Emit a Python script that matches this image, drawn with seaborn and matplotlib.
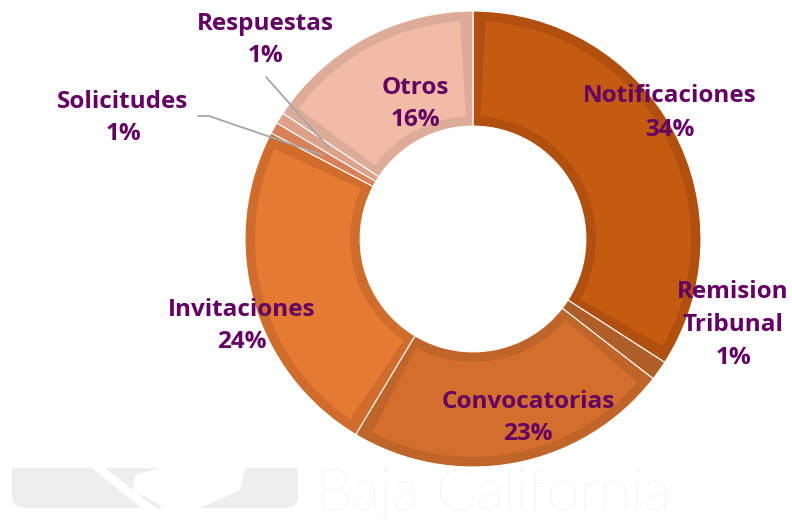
import numpy as np
import matplotlib
matplotlib.use("Agg")
import matplotlib.pyplot as plt
from matplotlib.patches import Wedge, FancyBboxPatch, Polygon, Rectangle
import seaborn as sns

# ---- data ----
categories = ["Notificaciones", "Remision\nTribunal", "Convocatorias", "Invitaciones",
              "Solicitudes", "Respuestas", "Otros"]
values = [34.1, 1.4, 23.1, 24.1, 0.8, 0.8, 15.7]
fill_colors = ["#C55A11", "#AE5E26", "#D36E2D", "#E57A32", "#D98058", "#DDA088", "#F1BBA6"]
edge_colors = ["#B04F0E", "#AE5E26", "#C06529", "#D06C2C", "#D98058", "#DDA088", "#DDAC98"]

# label centres in pixels (x, y from top)
label_pos = [(670, 113), (733, 325), (528, 418), (242, 326), (123, 118), (265, 40), (415, 104)]
TEXT_COLOR = "#640064"

W, H = 792, 523
CX, CY, R = 473, 239, 228

sns.set_theme(style="white")
plt.rcParams["font.family"] = ["Open Sans", "DejaVu Sans"]

fig = plt.figure(figsize=(W / 100, H / 100), dpi=100)
ax = fig.add_axes([0, 0, 1, 1])

# ---- watermark (drawn first, behind chart) ----
wm = "#EEEEEE"
fig.patches.append(FancyBboxPatch((12 / W, 1 - 508 / H), 286 / W, 40 / H,
                                  boxstyle="round,pad=0,rounding_size=0.02",
                                  transform=fig.transFigure, facecolor=wm, edgecolor="none", zorder=0))
fig.patches.append(Rectangle((12 / W, 1 - 488 / H), 286 / W, 20 / H,
                             transform=fig.transFigure, facecolor=wm, edgecolor="none", zorder=0))
fig.patches.append(Polygon([(92 / W, 1 - 468 / H), (105 / W, 1 - 468 / H), (175 / W, 1 - 523 / H),
                            (160 / W, 1 - 523 / H)],
                           closed=True, transform=fig.transFigure, facecolor="white", edgecolor="none",
                           zorder=0.5))
fig.patches.append(Polygon([(135 / W, 1 - 475 / H), (160 / W, 1 - 468 / H), (245 / W, 1 - 468 / H),
                            (240 / W, 1 - 490 / H), (200 / W, 1 - 508 / H), (165 / W, 1 - 508 / H),
                            (133 / W, 1 - 490 / H)],
                           closed=True, transform=fig.transFigure, facecolor="white", edgecolor="none",
                           zorder=0.5))
fig.text(316 / W, 1 - 510 / H, "Baja California", color=wm, fontsize=42, fontweight="light",
         family=["Lato", "DejaVu Sans"], ha="left", va="baseline", zorder=0)

# ---- donut ----
hole = 0.495
wedges, _ = ax.pie(values, colors=edge_colors, radius=1, startangle=90, counterclock=False,
                   wedgeprops=dict(width=1 - hole, edgecolor="white", linewidth=0.8))

# inner lighter fill to mimic the thick border of each segment
d = 10 / R
r_mid = (1 + hole) / 2
dang = np.degrees(d / r_mid)
for w, v, fc in zip(wedges, values, fill_colors):
    if v < 5:
        continue
    ax.add_patch(Wedge((0, 0), 1 - d, w.theta1 + dang, w.theta2 - dang,
                       width=1 - hole - 2 * d, facecolor=fc, edgecolor="none"))

ax.set_xlim(-CX / R, (W - CX) / R)
ax.set_ylim(-(H - CY) / R, CY / R)
ax.set_aspect("equal")
ax.axis("off")
ax.patch.set_alpha(0)

# leader lines for the small slices
line_c = "#A6A6A6"
fig.add_artist(plt.Line2D([198 / W, 209 / W, 323 / W], [1 - 116 / H, 1 - 116 / H, 1 - 155 / H],
                          color=line_c, lw=1.3))
fig.add_artist(plt.Line2D([266 / W, 329 / W], [1 - 77 / H, 1 - 148 / H], color=line_c, lw=1.3))

# labels
for name, v, (px, py) in zip(categories, values, label_pos):
    fig.text(px / W, 1 - py / H, f"{name}\n{v:.0f}%", ha="center", va="center",
             color=TEXT_COLOR, fontsize=17.5, fontweight="bold", linespacing=1.5)

fig.savefig("out.png", dpi=100)
